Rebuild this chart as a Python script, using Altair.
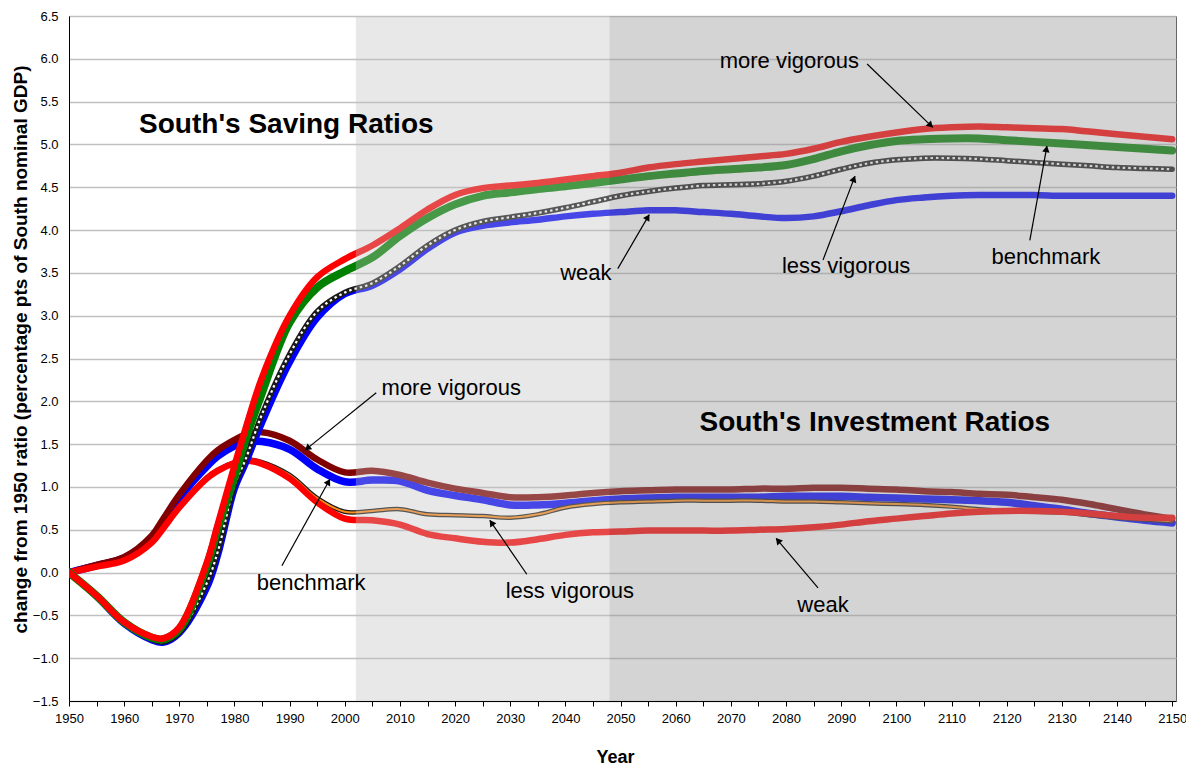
import math
import altair as alt
import pandas as pd

# ---------------- data ----------------
years = [1950, 1955, 1960, 1965, 1967, 1970, 1975, 1977, 1980, 1982, 1985, 1990, 1995, 2000,
         2005, 2010, 2015, 2020, 2025, 2030, 2035, 2040, 2045, 2050,
         2055, 2060, 2065, 2070, 2075, 2080, 2085, 2090, 2095, 2100,
         2105, 2110, 2115, 2120, 2125, 2130, 2135, 2140, 2145, 2150]

sav_more = [0.00, -0.27, -0.58, -0.75, -0.77, -0.64, 0.12, 0.57, 1.25, 1.68, 2.28, 3.00, 3.45, 3.66,
            3.82, 4.02, 4.24, 4.41, 4.49, 4.52, 4.55, 4.59, 4.63, 4.67,
            4.73, 4.77, 4.80, 4.83, 4.86, 4.89, 4.95, 5.03, 5.09, 5.14,
            5.18, 5.20, 5.21, 5.20, 5.19, 5.18, 5.15, 5.12, 5.09, 5.06]
sav_bench = [0.00, -0.27, -0.58, -0.76, -0.78, -0.66, 0.08, 0.52, 1.12, 1.55, 2.10, 2.92, 3.33, 3.52,
             3.68, 3.93, 4.14, 4.30, 4.40, 4.44, 4.48, 4.51, 4.55, 4.59,
             4.63, 4.66, 4.69, 4.71, 4.73, 4.76, 4.83, 4.92, 4.99, 5.04,
             5.06, 5.07, 5.07, 5.05, 5.03, 5.01, 4.99, 4.97, 4.95, 4.93]
sav_less = [0.00, -0.28, -0.59, -0.78, -0.81, -0.70, -0.12, 0.25, 1.02, 1.32, 1.85, 2.55, 3.05, 3.27,
            3.38, 3.58, 3.82, 4.00, 4.10, 4.15, 4.20, 4.26, 4.33, 4.40,
            4.45, 4.49, 4.52, 4.53, 4.54, 4.57, 4.63, 4.71, 4.78, 4.82,
            4.84, 4.84, 4.83, 4.81, 4.79, 4.77, 4.75, 4.73, 4.72, 4.71]
sav_weak = [0.00, -0.28, -0.60, -0.79, -0.82, -0.71, -0.18, 0.20, 0.97, 1.27, 1.75, 2.45, 2.97, 3.25,
            3.35, 3.54, 3.78, 3.97, 4.05, 4.09, 4.12, 4.16, 4.19, 4.21,
            4.23, 4.23, 4.21, 4.19, 4.16, 4.14, 4.16, 4.22, 4.29, 4.35,
            4.38, 4.40, 4.41, 4.41, 4.41, 4.40, 4.40, 4.40, 4.40, 4.40]

inv_more = [0.00, 0.09, 0.18, 0.43, 0.62, 0.91, 1.31, 1.43, 1.55, 1.61, 1.64, 1.54, 1.32, 1.17,
            1.19, 1.14, 1.05, 0.98, 0.93, 0.88, 0.88, 0.90, 0.93, 0.95,
            0.96, 0.97, 0.97, 0.97, 0.98, 0.98, 0.99, 0.99, 0.98, 0.97,
            0.95, 0.94, 0.92, 0.91, 0.88, 0.85, 0.80, 0.74, 0.68, 0.63]
inv_bench = [0.00, 0.08, 0.17, 0.40, 0.58, 0.87, 1.24, 1.36, 1.48, 1.53, 1.53, 1.44, 1.21, 1.06,
             1.08, 1.07, 0.96, 0.90, 0.85, 0.79, 0.79, 0.81, 0.84, 0.86,
             0.87, 0.88, 0.88, 0.88, 0.88, 0.89, 0.89, 0.89, 0.88, 0.87,
             0.86, 0.85, 0.84, 0.82, 0.78, 0.74, 0.69, 0.65, 0.61, 0.58]
inv_less = [0.00, 0.07, 0.14, 0.36, 0.52, 0.77, 1.11, 1.20, 1.29, 1.32, 1.29, 1.14, 0.87, 0.71,
            0.72, 0.74, 0.68, 0.67, 0.66, 0.64, 0.68, 0.76, 0.80, 0.82,
            0.83, 0.84, 0.84, 0.84, 0.84, 0.83, 0.83, 0.82, 0.81, 0.80,
            0.79, 0.77, 0.74, 0.72, 0.71, 0.70, 0.67, 0.64, 0.62, 0.60]
inv_weak = [0.00, 0.07, 0.14, 0.35, 0.51, 0.76, 1.10, 1.19, 1.28, 1.31, 1.27, 1.10, 0.82, 0.63,
            0.61, 0.56, 0.45, 0.40, 0.36, 0.35, 0.39, 0.44, 0.47, 0.48,
            0.49, 0.49, 0.49, 0.49, 0.50, 0.51, 0.53, 0.56, 0.60, 0.63,
            0.66, 0.69, 0.71, 0.72, 0.72, 0.71, 0.69, 0.66, 0.64, 0.64]

# shaded periods (start years); both run to the right edge
shade_starts = [2002, 2048]

# annotation labels: text, text anchor (year, value), arrow start, arrow tip
ann_text = ["more vigorous", "weak", "less vigorous", "benchmark",
            "more vigorous", "benchmark", "less vigorous", "weak"]
ann_year = [2080.6, 2043.7, 2090.9, 2127.1, 2019.3, 1993.9, 2040.8, 2086.7]
ann_val = [5.97, 3.50, 3.58, 3.68, 2.16, -0.12, -0.22, -0.38]
arr_y0 = [2094.7, 2049.5, 2086.7, 2124.2, 2005.7, 1988.6, 2033.0, 2085.8]
arr_v0 = [5.94, 3.55, 3.65, 3.88, 2.10, 0.08, -0.02, -0.18]
arr_y1 = [2106.6, 2055.2, 2092.5, 2127.3, 1992.8, 1997.3, 2026.3, 2078.2]
arr_v1 = [5.20, 4.18, 4.63, 4.98, 1.43, 1.09, 0.61, 0.40]

titles = ["South's Saving Ratios", "South's Investment Ratios"]
title_year = [1989.4, 2096.1]
title_val = [5.23, 1.75]

# ---------------- layout ----------------
X_MIN, X_MAX = 1950, 2150.7
Y_MIN, Y_MAX = -1.5, 6.5
W, H = 1107, 685
FONT = "Liberation Sans"

xs = alt.Scale(domain=[X_MIN, X_MAX], nice=False, zero=False)
ys = alt.Scale(domain=[Y_MIN, Y_MAX], nice=False, zero=False)

x_axis = alt.Axis(
    values=list(range(1950, 2151, 5)), format="d",
    labelExpr="datum.value % 10 == 0 ? datum.label : ''",
    grid=False, tickSize=5, tickColor="#000000", domainColor="#000000",
    labelFontSize=13, labelPadding=6, labelColor="#000000", labelFont=FONT,
    labelFlush=False, labelOverlap=False,
    title="Year", titleFontSize=18, titleFont=FONT, titleFontWeight="bold",
    titleX=546, titleY=56, titleBaseline="middle", titleAlign="center",
    titleColor="#000000",
)
y_axis = alt.Axis(
    values=[Y_MIN + 0.5 * i for i in range(17)], format=".1f",
    grid=True, gridColor="#C0C0C0", gridWidth=1.5,
    tickSize=0, domainColor="#000000",
    labelFontSize=13, labelPadding=11, labelColor="#000000", labelFont=FONT,
    labelFlush=False, labelOverlap=False,
    title="change from 1950 ratio (percentage pts of South nominal GDP)",
    titleFontSize=19, titleFont=FONT, titleFontWeight="bold",
    titleX=-49, titleY=333, titleAngle=270, titleBaseline="middle",
    titleAlign="center", titleColor="#000000",
)


def X(field):
    return alt.X(field, scale=xs, axis=x_axis)


def Y(field):
    return alt.Y(field, scale=ys, axis=y_axis)


def line_layer(values, color, width, dash=None):
    df = pd.DataFrame({"year": years, "v": values})
    kw = dict(color=color, strokeWidth=width, interpolate="catmull-rom",
              strokeJoin="round", strokeCap="round", clip=True)
    if dash:
        kw["strokeDash"] = dash
        kw["strokeCap"] = "butt"
    return alt.Chart(df).mark_line(**kw).encode(x=X("year:Q"), y=Y("v:Q"))


layers = [
    # investment ratios
    line_layer(inv_bench, "#0000FF", 7.5),
    line_layer(inv_less, "#1A1A1A", 4.5),
    line_layer(inv_less, "#FF8C1A", 2),
    line_layer(inv_more, "#800000", 6.5),
    line_layer(inv_weak, "#FF0000", 6.5),
    # saving ratios
    line_layer(sav_weak, "#0000FF", 6.5),
    line_layer(sav_less, "#1A1A1A", 5.5),
    line_layer(sav_less, "#FFFFFF", 2.2, dash=[2.5, 3]),
    line_layer(sav_bench, "#008000", 8),
    line_layer(sav_more, "#FF0000", 6.5),
]

# shaded periods drawn over the lines (semi-transparent, like the original)
shade_df = pd.DataFrame({"start": shade_starts, "end": [X_MAX] * len(shade_starts)})
shade1 = alt.Chart(shade_df.iloc[[0]]).mark_rect(color="#C0C0C0", opacity=0.37).encode(
    x=X("start:Q"), x2="end:Q")
shade2 = alt.Chart(shade_df.iloc[[1]]).mark_rect(color="#000000", opacity=0.085).encode(
    x=X("start:Q"), x2="end:Q")

# arrows
px_per_year = W / (X_MAX - X_MIN)
px_per_unit = H / (Y_MAX - Y_MIN)
head_x, head_y, head_ang = [], [], []
for a, b, c, d in zip(arr_y0, arr_v0, arr_y1, arr_v1):
    dx = (c - a) * px_per_year
    dy = -(d - b) * px_per_unit
    ln = math.hypot(dx, dy)
    ang = math.degrees(math.atan2(dx, -dy)) % 360
    back = 4.0
    head_x.append(c - dx / ln * back / px_per_year)
    head_y.append(d + dy / ln * back / px_per_unit)
    head_ang.append(ang)

arrow_df = pd.DataFrame({"x0": arr_y0, "v0": arr_v0, "x1": arr_y1, "v1": arr_v1})
arrows = alt.Chart(arrow_df).mark_rule(color="#000000", strokeWidth=1.2).encode(
    x=X("x0:Q"), y=Y("v0:Q"), x2="x1:Q", y2="v1:Q")
head_df = pd.DataFrame({"hx": head_x, "hy": head_y, "ang": head_ang})
heads = alt.Chart(head_df).mark_point(shape="triangle", filled=True, color="#000000",
                                      size=55, opacity=1).encode(
    x=X("hx:Q"), y=Y("hy:Q"), angle=alt.Angle("ang:Q", scale=None))

ann_df = pd.DataFrame({"t": ann_text, "x": ann_year, "v": ann_val})
ann = alt.Chart(ann_df).mark_text(font=FONT, fontSize=22, color="#000000",
                                  align="center", baseline="middle").encode(
    x=X("x:Q"), y=Y("v:Q"), text="t:N")

title_df = pd.DataFrame({"t": titles, "x": title_year, "v": title_val})
big = alt.Chart(title_df).mark_text(font=FONT, fontSize=28, fontWeight="bold",
                                    color="#000000", align="center",
                                    baseline="middle").encode(
    x=X("x:Q"), y=Y("v:Q"), text="t:N")

chart = alt.layer(*layers, shade1, shade2, arrows, heads, ann, big).properties(
    width=W, height=H,
    padding={"left": 61, "top": 8, "right": 10, "bottom": 66},
    autosize=alt.AutoSizeParams(type="none"),
    background="#FFFFFF",
).configure_view(stroke="#666666", strokeWidth=1)

chart.save("out.html", embed_options={"renderer": "svg", "actions": False})
